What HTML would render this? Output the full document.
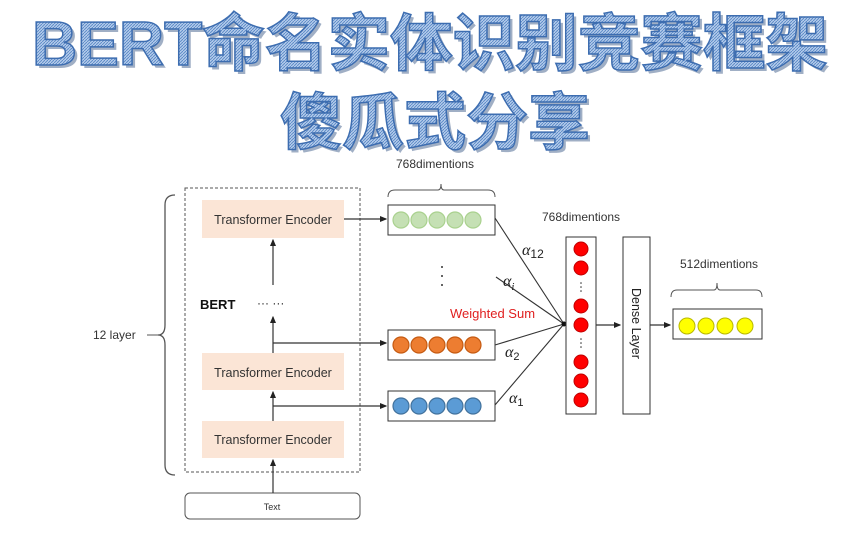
<!DOCTYPE html>
<html><head><meta charset="utf-8"><style>
html,body{margin:0;padding:0;background:#fff;}
svg{display:block;}
.t{font-family:"Liberation Sans","Noto Sans CJK SC",sans-serif;}
</style></head><body>
<svg width="864" height="540" viewBox="0 0 864 540" xmlns="http://www.w3.org/2000/svg">
<defs>
<pattern id="h" width="3" height="3" patternUnits="userSpaceOnUse"><rect width="3" height="3" fill="#b4cbeb"/><path d="M0 3L3 0" stroke="#5a88c6" stroke-width="0.9"/></pattern>
<marker id="a" markerWidth="6" markerHeight="6" refX="5" refY="3" orient="auto"><path d="M0 0.5L6 3L0 5.5z" fill="#222"/></marker>
</defs>
<g class="t">
<text x="32" y="65" font-size="62" textLength="796" lengthAdjust="spacingAndGlyphs" fill="#2f4f80" opacity="0.45" transform="translate(3,3)"><tspan font-weight="900">BERT</tspan><tspan font-weight="bold">命名实体识别竞赛框架</tspan></text>
<text x="32" y="65" font-size="62" textLength="796" lengthAdjust="spacingAndGlyphs" fill="url(#h)" stroke="#3d6db0" stroke-width="1.5"><tspan font-weight="900">BERT</tspan><tspan font-weight="bold">命名实体识别竞赛框架</tspan></text>
<text x="280" y="144" font-size="62" font-weight="bold" textLength="310" lengthAdjust="spacingAndGlyphs" fill="#2f4f80" opacity="0.45" transform="translate(3,3)">傻瓜式分享</text>
<text x="280" y="144" font-size="62" font-weight="bold" textLength="310" lengthAdjust="spacingAndGlyphs" fill="url(#h)" stroke="#3d6db0" stroke-width="1.5">傻瓜式分享</text>
</g>
<g class="t" font-family="Liberation Sans, sans-serif">
<path d="M175 195 Q165 195 165 205 L165 325 Q165 335 158 335 Q165 335 165 345 L165 465 Q165 475 175 475" fill="none" stroke="#555" stroke-width="1.3"/>
<text x="93" y="339" font-size="12" fill="#333">12 layer</text>
<line x1="147" y1="335" x2="158" y2="335" stroke="#555"/>
<rect x="185" y="188" width="175" height="284" fill="none" stroke="#555" stroke-dasharray="3,2"/>
<rect x="202" y="200" width="142" height="38" fill="#fbe5d6"/>
<rect x="202" y="353" width="142" height="37" fill="#fbe5d6"/>
<rect x="202" y="421" width="142" height="37" fill="#fbe5d6"/>
<text x="273" y="224" font-size="12.5" fill="#333" text-anchor="middle">Transformer Encoder</text>
<text x="273" y="377" font-size="12.5" fill="#333" text-anchor="middle">Transformer Encoder</text>
<text x="273" y="444" font-size="12.5" fill="#333" text-anchor="middle">Transformer Encoder</text>
<text x="200" y="309" font-size="13" font-weight="bold" fill="#111">BERT</text>
<text x="257" y="307" font-size="12" fill="#222">··· ···</text>
<rect x="185" y="493" width="175" height="26" rx="5" fill="#fff" stroke="#555"/>
<text x="272" y="510" font-size="9" fill="#333" text-anchor="middle">Text</text>
<g stroke="#333" stroke-width="1.2" fill="none">
<line x1="273" y1="493" x2="273" y2="460" marker-end="url(#a)"/>
<line x1="273" y1="421" x2="273" y2="392" marker-end="url(#a)"/>
<line x1="273" y1="353" x2="273" y2="317" marker-end="url(#a)"/>
<line x1="273" y1="285" x2="273" y2="240" marker-end="url(#a)"/>
<line x1="344" y1="219" x2="386" y2="219" marker-end="url(#a)"/>
<line x1="273" y1="343" x2="386" y2="343" marker-end="url(#a)"/>
<line x1="273" y1="406" x2="386" y2="406" marker-end="url(#a)"/>
</g>
<text x="396" y="168" font-size="12" fill="#333">768dimentions</text>
<path d="M388 197 Q388 190 395 190 L438 190 Q441 190 441 184 Q441 190 444 190 L488 190 Q495 190 495 197" fill="none" stroke="#555"/>
<rect x="388" y="205" width="107" height="30" fill="#fff" stroke="#333"/>
<rect x="388" y="330" width="107" height="30" fill="#fff" stroke="#333"/>
<rect x="388" y="391" width="107" height="30" fill="#fff" stroke="#333"/>
<g stroke-width="1.2">
<circle cx="401" cy="220" r="8" fill="#c5e0b4" stroke="#a9d18e"/><circle cx="419" cy="220" r="8" fill="#c5e0b4" stroke="#a9d18e"/><circle cx="437" cy="220" r="8" fill="#c5e0b4" stroke="#a9d18e"/><circle cx="455" cy="220" r="8" fill="#c5e0b4" stroke="#a9d18e"/><circle cx="473" cy="220" r="8" fill="#c5e0b4" stroke="#a9d18e"/>
<circle cx="401" cy="345" r="8" fill="#ed7d31" stroke="#c55a11"/><circle cx="419" cy="345" r="8" fill="#ed7d31" stroke="#c55a11"/><circle cx="437" cy="345" r="8" fill="#ed7d31" stroke="#c55a11"/><circle cx="455" cy="345" r="8" fill="#ed7d31" stroke="#c55a11"/><circle cx="473" cy="345" r="8" fill="#ed7d31" stroke="#c55a11"/>
<circle cx="401" cy="406" r="8" fill="#5b9bd5" stroke="#41719c"/><circle cx="419" cy="406" r="8" fill="#5b9bd5" stroke="#41719c"/><circle cx="437" cy="406" r="8" fill="#5b9bd5" stroke="#41719c"/><circle cx="455" cy="406" r="8" fill="#5b9bd5" stroke="#41719c"/><circle cx="473" cy="406" r="8" fill="#5b9bd5" stroke="#41719c"/>
</g>
<g fill="#333"><circle cx="442" cy="267" r="1"/><circle cx="442" cy="276" r="1"/><circle cx="442" cy="285" r="1"/></g>
<g stroke="#333" stroke-width="1.1">
<line x1="495" y1="218" x2="564" y2="324"/>
<line x1="496" y1="277" x2="564" y2="324"/>
<line x1="495" y1="345" x2="564" y2="324"/>
<line x1="495" y1="405" x2="564" y2="324"/>
</g>
<circle cx="564" cy="324" r="2.5" fill="#111"/>
<g font-family="Liberation Serif, serif" font-style="italic" font-size="16" fill="#222">
<text x="522" y="255">α<tspan font-style="normal" font-family="Liberation Sans, sans-serif" font-size="12" dy="3">12</tspan></text>
<text x="503" y="286">α<tspan font-size="11" dy="4">i</tspan></text>
<text x="505" y="357">α<tspan font-style="normal" font-family="Liberation Sans, sans-serif" font-size="11" dy="3">2</tspan></text>
<text x="509" y="403">α<tspan font-style="normal" font-family="Liberation Sans, sans-serif" font-size="11" dy="3">1</tspan></text>
</g>
<text x="450" y="318" font-size="13" fill="#e02020">Weighted Sum</text>
<text x="542" y="221" font-size="12" fill="#333">768dimentions</text>
<rect x="566" y="237" width="30" height="177" fill="#fff" stroke="#333"/>
<g fill="#ff0000" stroke="#c00000">
<circle cx="581" cy="249" r="7"/><circle cx="581" cy="268" r="7"/><circle cx="581" cy="306" r="7"/><circle cx="581" cy="325" r="7"/><circle cx="581" cy="362" r="7"/><circle cx="581" cy="381" r="7"/><circle cx="581" cy="400" r="7"/>
</g>
<g fill="#333"><circle cx="581" cy="283" r="0.8"/><circle cx="581" cy="287" r="0.8"/><circle cx="581" cy="291" r="0.8"/><circle cx="581" cy="339" r="0.8"/><circle cx="581" cy="343" r="0.8"/><circle cx="581" cy="347" r="0.8"/></g>
<rect x="623" y="237" width="27" height="177" fill="#fff" stroke="#333"/>
<text transform="translate(632,288) rotate(90)" font-size="12.5" fill="#222">Dense  Layer</text>
<g stroke="#333" stroke-width="1.2"><line x1="596" y1="325" x2="620" y2="325" marker-end="url(#a)"/><line x1="650" y1="325" x2="670" y2="325" marker-end="url(#a)"/></g>
<text x="680" y="268" font-size="12" fill="#333">512dimentions</text>
<path d="M671 297 Q671 290 677 290 L714 290 Q717 290 717 283 Q717 290 720 290 L756 290 Q762 290 762 297" fill="none" stroke="#555"/>
<rect x="673" y="309" width="89" height="30" fill="#fff" stroke="#333"/>
<g fill="#ffff00" stroke="#b8b800"><circle cx="687" cy="326" r="8"/><circle cx="706" cy="326" r="8"/><circle cx="725" cy="326" r="8"/><circle cx="745" cy="326" r="8"/></g>
</g>
</svg>
</body></html>
